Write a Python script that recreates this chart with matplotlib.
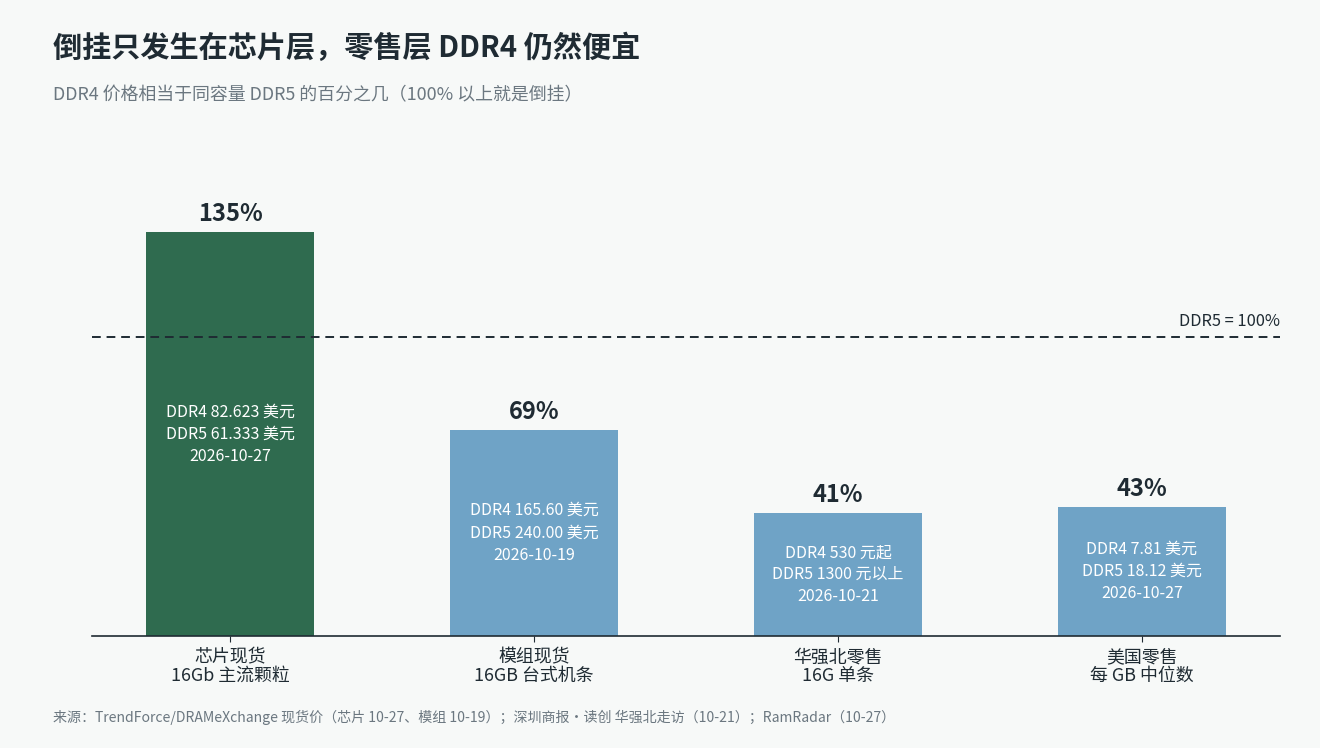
import matplotlib.pyplot as plt
import numpy as np

plt.rcParams['font.family'] = ['Noto Sans CJK SC', 'DejaVu Sans']

# data
categories = ["芯片现货\n16Gb 主流颗粒", "模组现货\n16GB 台式机条",
              "华强北零售\n16G 单条", "美国零售\n每 GB 中位数"]
ratios = [135, 69, 41, 43]
inner_labels = [
    "DDR4 82.623 美元\nDDR5 61.333 美元\n2026-10-27",
    "DDR4 165.60 美元\nDDR5 240.00 美元\n2026-10-19",
    "DDR4 530 元起\nDDR5 1300 元以上\n2026-10-21",
    "DDR4 7.81 美元\nDDR5 18.12 美元\n2026-10-27",
]
bar_colors = ["#2f6b4f", "#6fa3c6", "#6fa3c6", "#6fa3c6"]

bg = "#f7f9f8"
dark = "#1f2b33"
gray = "#6b7780"

fig = plt.figure(figsize=(13.2, 7.48), dpi=100, facecolor=bg)
ax = fig.add_axes([92 / 1320, 1 - 636 / 748, (1280 - 92) / 1320, (636 - 187.5) / 748])
ax.set_facecolor(bg)

x = np.arange(len(categories))
ax.bar(x, ratios, width=0.553, color=bar_colors, zorder=2)

ax.axhline(100, color=dark, lw=1.4, ls=(0, (4.5, 3)), zorder=3)
ax.text(3.454, 102.3, "DDR5 = 100%", ha="right", va="bottom", fontsize=11.8, color=dark)

for xi, v, lab in zip(x, ratios, inner_labels):
    ax.text(xi, v + 2.0, f"{v}%", ha="center", va="bottom", fontsize=17,
            fontweight="bold", color=dark)
    ax.text(xi, v / 2, lab, ha="center", va="center", fontsize=11.5,
            color="white", linespacing=1.4, zorder=4)

ax.set_xlim(-0.454, 3.454)
ax.set_ylim(0, 150)
ax.set_xticks(x)
ax.set_xticklabels(categories, fontsize=12.9, color=dark, linespacing=1.0)
ax.tick_params(axis="x", length=4, color=dark, pad=5)
ax.set_yticks([])
for s in ["left", "right", "top"]:
    ax.spines[s].set_visible(False)
ax.spines["bottom"].set_color(dark)
ax.spines["bottom"].set_linewidth(1.2)

fig.text(53 / 1320, 1 - 48 / 748, "倒挂只发生在芯片层，零售层 DDR4 仍然便宜",
         fontsize=21, fontweight="bold", color=dark, va="center")
fig.text(53 / 1320, 1 - 95 / 748, "DDR4 价格相当于同容量 DDR5 的百分之几（100% 以上就是倒挂）",
         fontsize=12.9, color=gray, va="center")
fig.text(53 / 1320, 1 - 717 / 748,
         "来源：TrendForce/DRAMeXchange 现货价（芯片 10-27、模组 10-19）；深圳商报・读创 华强北走访（10-21）；RamRadar（10-27）",
         fontsize=10.1, color=gray, va="center")

fig.savefig("out.png", dpi=100, facecolor=bg)
